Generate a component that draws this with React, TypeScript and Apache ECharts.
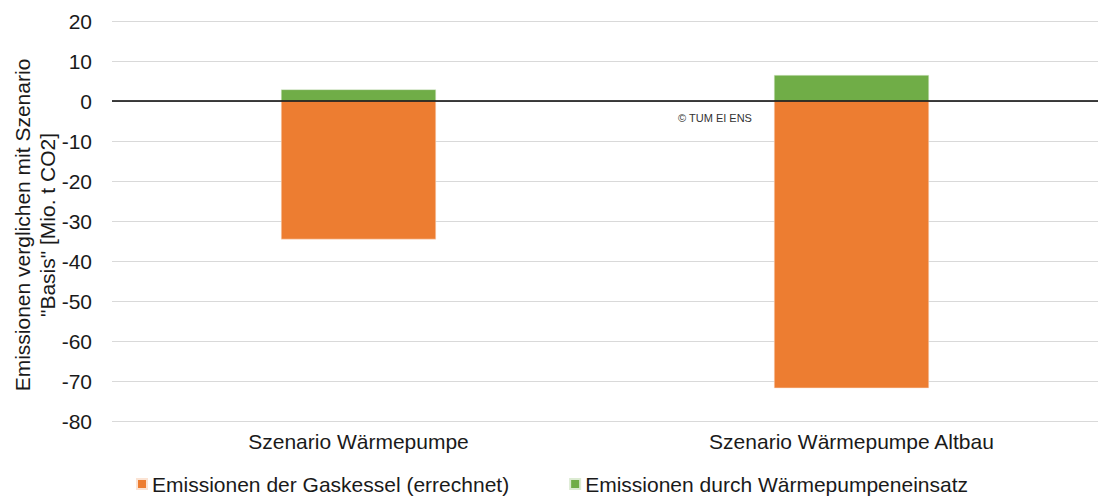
import React, { useEffect, useRef } from "react";
import * as echarts from "echarts";

const categories = ["Szenario Wärmepumpe", "Szenario Wärmepumpe Altbau"];
const gaskesselValues = [-34.6, -71.8];
const waermepumpeValues = [2.9, 6.5];
const seriesNames = ["Emissionen der Gaskessel (errechnet)", "Emissionen durch Wärmepumpeneinsatz"];
const yAxisTitle = 'Emissionen verglichen mit Szenario\n"Basis" [Mio. t CO2]';
const watermark = "© TUM EI ENS";

export default function App() {
  const ref = useRef<HTMLDivElement>(null);
  useEffect(() => {
    if (!ref.current) return;
    const chart = echarts.init(ref.current, null, { renderer: "svg" });
    const font = "Liberation Sans, Arial, sans-serif";
    chart.setOption({
      animation: false,
      textStyle: { fontFamily: font },
      grid: { left: 112, right: 0, top: 21, bottom: 75 },
      legend: {
        left: 136,
        top: 473,
        padding: 0,
        icon: "rect",
        itemWidth: 10,
        itemHeight: 10,
        itemGap: 60,
        textStyle: { fontSize: 21, color: "#1a1a1a", fontFamily: font, lineHeight: 22 },
        data: seriesNames,
      },
      xAxis: {
        type: "category",
        data: categories,
        axisLine: { show: false },
        axisTick: { show: false },
        axisLabel: { fontSize: 21, color: "#1a1a1a", margin: 10, fontFamily: font },
      },
      yAxis: {
        type: "value",
        min: -80,
        max: 20,
        interval: 10,
        axisLine: { show: false },
        axisTick: { show: false },
        axisLabel: { fontSize: 21, color: "#1a1a1a", margin: 20, fontFamily: font },
        splitLine: { lineStyle: { color: "#d9d9d9", width: 1 } },
      },
      graphic: [
        {
          type: "text",
          x: 35,
          y: 225,
          rotation: Math.PI / 2,
          style: {
            text: yAxisTitle,
            fontSize: 21,
            fontFamily: font,
            fill: "#1a1a1a",
            align: "center",
            verticalAlign: "middle",
            lineHeight: 25,
          },
        },
        {
          type: "text",
          x: 715,
          y: 118,
          style: {
            text: watermark,
            fontSize: 11,
            fontFamily: font,
            fill: "#333",
            align: "center",
            verticalAlign: "middle",
          },
        },
      ],
      series: [
        {
          name: seriesNames[0],
          type: "bar",
          stack: "total",
          barWidth: 155,
          data: gaskesselValues,
          itemStyle: { color: "#ED7D31", borderColor: "#fbe3d3", borderWidth: 0.5 },
          markLine: {
            silent: true,
            symbol: "none",
            label: { show: false },
            lineStyle: { color: "#000", width: 1.5, type: "solid" },
            data: [{ yAxis: 0 }],
          },
          z: 2,
        },
        {
          name: seriesNames[1],
          type: "bar",
          stack: "total",
          barWidth: 155,
          data: waermepumpeValues,
          itemStyle: { color: "#70AD47", borderColor: "#dcebd2", borderWidth: 0.5 },
          z: 2,
        },
      ],
    });
    return () => chart.dispose();
  }, []);
  return <div ref={ref} style={{ width: 1098, height: 496, position: "absolute", left: 0, top: 0 }} />;
}
